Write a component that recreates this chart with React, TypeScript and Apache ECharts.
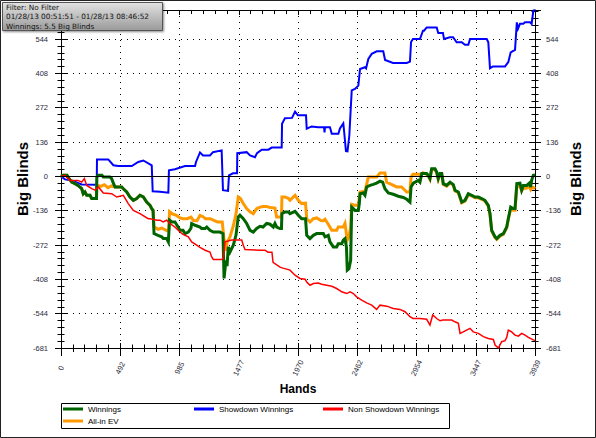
import React, { useEffect, useRef } from "react";
import * as echarts from "echarts";

// ---- Data (hands, big blinds) ----
const winnings: [number, number][] = [
  [0, 0], [17, 4], [50, 4], [66, -8], [89, -23], [116, -29], [141, -36], [172, -49], [185, -69], [199, -62],
  [214, -75], [241, -75], [255, -88], [295, -88], [298, -3], [307, 4], [341, 4], [352, -3], [407, -3], [421, -9],
  [435, -27], [449, -42], [504, -42], [518, -49], [546, -62], [573, -82], [601, -95], [629, -88], [656, -75], [684, -82],
  [712, -102], [740, -115], [754, -128], [765, -135], [773, -227], [806, -234], [837, -240], [850, -247], [878, -247], [892, -260],
  [902, -174], [922, -181], [947, -181], [964, -194], [989, -214], [1014, -214], [1030, -227], [1058, -221], [1080, -206], [1086, -187],
  [1114, -194], [1155, -201], [1169, -207], [1197, -207], [1211, -201], [1238, -214], [1266, -221], [1294, -221], [1321, -221], [1346, -227],
  [1355, -405], [1371, -333], [1380, -356], [1390, -280], [1404, -300], [1432, -273], [1454, -234], [1473, -161], [1487, -154], [1515, -168],
  [1543, -187], [1571, -214], [1598, -221], [1626, -207], [1654, -198], [1679, -201], [1709, -187], [1737, -190], [1764, -201], [1778, -187],
  [1792, -201], [1820, -207], [1832, -207], [1836, -148], [1861, -141], [1889, -141], [1903, -148], [1945, -139], [1972, -154], [2000, -168],
  [2032, -168], [2042, -234], [2069, -247], [2097, -234], [2125, -227], [2180, -227], [2194, -240], [2221, -234], [2235, -260], [2263, -280],
  [2291, -280], [2304, -267], [2333, -267], [2346, -253], [2360, -247], [2372, -280], [2379, -372], [2393, -366], [2407, -333], [2416, -122],
  [2429, -128], [2443, -135], [2471, -135], [2479, -108], [2485, -69], [2512, -66], [2526, -75], [2540, -42], [2568, -36], [2595, -32],
  [2623, -27], [2651, -19], [2673, -23], [2692, -49], [2720, -66], [2761, -71], [2803, -79], [2845, -84], [2873, -91], [2900, -102],
  [2909, -42], [2928, -27], [2969, -16], [2983, -23], [2998, 11], [3039, 11], [3052, 4], [3066, -9], [3080, 30], [3108, 30],
  [3122, 17], [3135, -9], [3149, 11], [3164, 11], [3177, -29], [3205, -36], [3233, -23], [3260, -33], [3274, -55], [3302, -62],
  [3316, -82], [3330, -102], [3357, -95], [3385, -69], [3413, -75], [3440, -82], [3468, -82], [3496, -88], [3523, -95], [3551, -115],
  [3565, -148], [3579, -214], [3607, -240], [3621, -247], [3648, -234], [3676, -227], [3704, -201], [3717, -168], [3737, -122], [3756, -128],
  [3773, -128], [3788, -29], [3814, -27], [3828, -55], [3842, -36], [3870, -36], [3892, -27], [3903, -42], [3911, -16], [3925, 4],
  [3939, 5.5],
];

const allInEv: [number, number][] = [
  [0, 0], [17, 4], [50, 4], [66, -8], [89, -23], [116, -29], [141, -36], [172, -49], [185, -69], [199, -62],
  [214, -75], [241, -75], [255, -88], [295, -88], [298, -35], [330, -40], [360, -33], [390, -45], [420, -38], [435, -40],
  [449, -42], [504, -42], [518, -49], [546, -62], [573, -82], [601, -95], [629, -88], [656, -75], [684, -82], [712, -102],
  [740, -115], [754, -128], [765, -135], [773, -200], [806, -210], [837, -205], [878, -215], [895, -212], [902, -140], [930, -150],
  [960, -155], [989, -165], [1014, -168], [1050, -168], [1080, -162], [1100, -175], [1130, -176], [1155, -155], [1180, -160], [1200, -168],
  [1240, -168], [1270, -175], [1300, -181], [1340, -181], [1355, -250], [1371, -295], [1380, -262], [1404, -240], [1430, -200], [1454, -150],
  [1473, -82], [1490, -87], [1515, -108], [1543, -128], [1571, -141], [1598, -148], [1626, -128], [1654, -122], [1680, -120], [1709, -120],
  [1740, -124], [1778, -126], [1792, -161], [1832, -161], [1836, -82], [1861, -82], [1889, -87], [1903, -95], [1945, -75], [1972, -95],
  [2000, -108], [2032, -106], [2042, -168], [2069, -181], [2097, -168], [2125, -165], [2160, -175], [2180, -176], [2194, -170], [2221, -190],
  [2250, -214], [2291, -214], [2304, -201], [2346, -201], [2360, -187], [2379, -253], [2393, -240], [2407, -200], [2416, -111], [2443, -115],
  [2471, -115], [2485, -62], [2526, -59], [2554, -3], [2623, -3], [2651, 13], [2692, 13], [2706, -23], [2745, -32], [2790, -42],
  [2830, -42], [2873, -62], [2900, -62], [2909, -3], [2925, 8], [2998, 8], [3008, 14], [3039, 8], [3052, 1], [3066, -12],
  [3080, 27], [3108, 27], [3122, 14], [3135, -12], [3149, 8], [3164, 8], [3177, -32], [3205, -39], [3233, -26], [3260, -36],
  [3274, -58], [3302, -65], [3316, -85], [3330, -105], [3357, -98], [3385, -72], [3413, -78], [3440, -85], [3468, -85], [3496, -91],
  [3523, -98], [3551, -118], [3565, -151], [3579, -217], [3607, -243], [3621, -250], [3648, -237], [3676, -230], [3704, -204], [3717, -171],
  [3737, -128], [3756, -134], [3773, -134], [3788, -40], [3814, -38], [3828, -58], [3842, -48], [3870, -46], [3892, -40], [3903, -52],
  [3911, -45], [3925, -44], [3939, -49],
];

const showdown: [number, number][] = [
  [0, 0], [33, -12], [89, -16], [172, -32], [297, -33], [299, 67], [393, 67], [435, 44], [476, 41], [588, 41],
  [642, 57], [684, 63], [754, 44], [762, -59], [823, -61], [892, -65], [897, 24], [947, 28], [1030, 41], [1114, 41],
  [1122, 57], [1155, 95], [1180, 83], [1238, 83], [1263, 96], [1335, 103], [1346, -55], [1388, -58], [1396, 4], [1429, 12],
  [1463, 12], [1465, 92], [1543, 96], [1571, 83], [1612, 76], [1629, 92], [1668, 106], [1723, 106], [1751, 114], [1834, 114],
  [1837, 209], [1861, 231], [1920, 232], [1945, 257], [1969, 242], [2036, 242], [2042, 189], [2083, 198], [2136, 195], [2186, 195],
  [2190, 174], [2194, 195], [2235, 195], [2250, 169], [2305, 169], [2318, 190], [2346, 210], [2352, 182], [2368, 100], [2381, 99],
  [2396, 162], [2407, 261], [2416, 341], [2443, 347], [2471, 360], [2485, 426], [2526, 433], [2535, 428], [2554, 466], [2582, 486],
  [2624, 496], [2678, 496], [2693, 462], [2759, 450], [2873, 450], [2900, 455], [2909, 533], [2925, 545], [2983, 545], [3008, 578],
  [3017, 578], [3039, 591], [3122, 591], [3135, 569], [3174, 569], [3183, 545], [3232, 552], [3258, 552], [3288, 532], [3330, 532],
  [3357, 522], [3385, 522], [3399, 545], [3538, 545], [3551, 532], [3565, 429], [3590, 436], [3690, 436], [3717, 453], [3737, 492],
  [3773, 502], [3788, 611], [3798, 586], [3814, 605], [3842, 605], [3856, 611], [3897, 611], [3911, 605], [3925, 657], [3939, 660],
];

const nonShowdown: [number, number][] = [
  [0, 0], [33, 4], [75, -16], [141, -16], [172, -23], [194, -9], [214, -36], [255, -49], [283, -55], [310, -42],
  [352, -66], [421, -69], [463, -82], [518, -75], [559, -108], [601, -135], [656, -148], [725, -168], [740, -168], [798, -174],
  [823, -174], [848, -181], [878, -174], [906, -187], [947, -201], [989, -221], [1014, -230], [1058, -240], [1086, -260], [1128, -273],
  [1155, -282], [1197, -293], [1238, -300], [1252, -320], [1266, -330], [1335, -330], [1349, -326], [1363, -260], [1419, -253], [1502, -253],
  [1515, -273], [1529, -290], [1654, -293], [1695, -293], [1720, -301], [1753, -301], [1762, -341], [1820, -360], [1845, -364], [1903, -372],
  [1945, -392], [1986, -405], [2028, -408], [2042, -419], [2069, -432], [2097, -425], [2138, -423], [2166, -428], [2208, -432], [2250, -436],
  [2291, -445], [2333, -458], [2374, -465], [2402, -458], [2429, -465], [2457, -478], [2499, -491], [2540, -502], [2582, -511], [2623, -528],
  [2651, -511], [2707, -515], [2761, -524], [2817, -528], [2859, -537], [2900, -557], [2925, -564], [2983, -564], [3039, -567], [3066, -590],
  [3089, -550], [3122, -564], [3150, -573], [3174, -570], [3247, -570], [3274, -577], [3302, -583], [3316, -623], [3343, -617], [3371, -610],
  [3399, -603], [3426, -617], [3468, -623], [3510, -636], [3551, -643], [3593, -647], [3607, -669], [3635, -681], [3662, -656], [3690, -652],
  [3704, -639], [3717, -610], [3745, -617], [3773, -630], [3801, -634], [3828, -623], [3856, -630], [3884, -639], [3925, -649], [3939, -652],
];

const xTickLabels = ["0", "492", "985", "1477", "1970", "2462", "2954", "3447", "3939"];
const yTickLabels = ["-681", "-544", "-408", "-272", "-136", "0", "136", "272", "408", "544"];
const infoLines = [
  "Filter: No Filter",
  "01/28/13 00:51:51 - 01/28/13 08:46:52",
  "Winnings: 5.5 Big Blinds",
];

const X_MIN = 0;
const X_MAX = 3939;
const X_INTERVAL = 492.375;
const Y_MIN = -681;
const Y_MAX = 660;
const Y_INTERVAL = 136.2;

const FONT = '"Liberation Sans", Arial, sans-serif';

export default function App() {
  const ref = useRef<HTMLDivElement>(null);

  useEffect(() => {
    if (!ref.current) return;
    const chart = echarts.init(ref.current, undefined, { renderer: "svg" });

    const gridBox = { left: 61, right: 61, top: 10, bottom: 90 };
    const black = { color: "#000", width: 1 };

    const xBase = (gridIndex: number) => ({
      type: "value" as const,
      gridIndex,
      min: X_MIN,
      max: X_MAX,
      interval: X_INTERVAL,
    });
    const yBase = (gridIndex: number) => ({
      type: "value" as const,
      gridIndex,
      min: Y_MIN,
      max: Y_MAX,
      interval: Y_INTERVAL,
    });

    const option: any = {
      animation: false,
      backgroundColor: "#fff",
      grid: [0, 1, 2, 3].map(() => ({ ...gridBox, containLabel: false })),
      xAxis: [
        {
          ...xBase(0),
          position: "bottom",
          axisLine: { show: true, onZero: false, lineStyle: black },
          axisTick: { show: true, inside: false, length: 8, lineStyle: black },
          minorTick: { show: true, splitNumber: 5, length: 4, lineStyle: black },
          splitLine: { show: true, lineStyle: { color: "#000", width: 1, type: [1, 5] } },
          axisLabel: {
            show: true,
            rotate: 65,
            align: "center",
            verticalAlign: "middle",
            margin: 20,
            fontSize: 7.5,
            fontFamily: FONT,
            color: "#2a2a3a",
            formatter: (_v: number, i: number) => xTickLabels[i] ?? "",
          },
          name: "Hands",
          nameLocation: "middle",
          nameGap: 35,
          nameMoveOverlap: false,
          nameTextStyle: { fontSize: 12, fontWeight: "bold", fontFamily: FONT, color: "#000" },
        },
        {
          ...xBase(1),
          position: "bottom",
          axisLine: { show: false, onZero: false },
          axisTick: { show: true, inside: true, length: 5, lineStyle: black },
          minorTick: { show: true, splitNumber: 5, length: 3.5, lineStyle: black },
          splitLine: { show: false },
          axisLabel: { show: false },
        },
        {
          ...xBase(2),
          position: "top",
          axisLine: { show: true, onZero: false, lineStyle: black },
          axisTick: { show: true, inside: true, length: 5, lineStyle: black },
          minorTick: { show: true, splitNumber: 5, length: 4, lineStyle: black },
          splitLine: { show: false },
          axisLabel: { show: false },
        },
        { ...xBase(3), show: false },
      ],
      yAxis: [
        {
          ...yBase(0),
          position: "left",
          axisLine: { show: true, onZero: false, lineStyle: black },
          axisTick: { show: true, inside: false, length: 6, lineStyle: black },
          minorTick: { show: true, splitNumber: 5, length: 3.5, lineStyle: black },
          splitLine: { show: true, lineStyle: { color: "#000", width: 1, type: [1, 5] } },
          axisLabel: {
            show: true,
            margin: 13,
            fontSize: 7.5,
            fontFamily: FONT,
            color: "#2a2a3a",
            formatter: (_v: number, i: number) => yTickLabels[i] ?? "",
          },
          name: "Big Blinds",
          nameLocation: "middle",
          nameRotate: 90,
          nameGap: 31,
          nameMoveOverlap: false,
          nameTextStyle: { fontSize: 15, fontWeight: "bold", fontFamily: FONT, color: "#000" },
        },
        {
          ...yBase(1),
          position: "left",
          axisLine: { show: false, onZero: false },
          axisTick: { show: true, inside: true, length: 6, lineStyle: black },
          minorTick: { show: true, splitNumber: 5, length: 3.5, lineStyle: black },
          splitLine: { show: false },
          axisLabel: { show: false },
        },
        {
          ...yBase(2),
          position: "right",
          axisLine: { show: true, onZero: false, lineStyle: black },
          axisTick: { show: true, inside: false, length: 6, lineStyle: black },
          minorTick: { show: true, splitNumber: 5, length: 3.5, lineStyle: black },
          splitLine: { show: false },
          axisLabel: {
            show: true,
            margin: 11,
            fontSize: 7.5,
            fontFamily: FONT,
            color: "#2a2a3a",
            formatter: (_v: number, i: number) => yTickLabels[i] ?? "",
          },
          name: "Big Blinds",
          nameLocation: "middle",
          nameRotate: 90,
          nameGap: 33,
          nameMoveOverlap: false,
          nameTextStyle: { fontSize: 15, fontWeight: "bold", fontFamily: FONT, color: "#000" },
        },
        {
          ...yBase(3),
          position: "right",
          axisLine: { show: false, onZero: false },
          axisTick: { show: true, inside: true, length: 6, lineStyle: black },
          minorTick: { show: true, splitNumber: 5, length: 3.5, lineStyle: black },
          splitLine: { show: false },
          axisLabel: { show: false },
        },
      ],
      legend: [
        {
          data: ["Winnings", "All-in EV"],
          orient: "vertical",
          left: 63,
          top: 404,
          itemWidth: 20,
          itemHeight: 3,
          itemGap: 2,
          icon: "rect",
          selectedMode: false,
          padding: 0,
          textStyle: { fontSize: 8, fontFamily: FONT, color: "#000", lineHeight: 10 },
        },
        {
          data: ["Showdown Winnings"],
          left: 194,
          top: 404,
          itemWidth: 20,
          itemHeight: 3,
          icon: "rect",
          selectedMode: false,
          padding: 0,
          textStyle: { fontSize: 8, fontFamily: FONT, color: "#000", lineHeight: 10 },
        },
        {
          data: ["Non Showdown Winnings"],
          left: 323,
          top: 404,
          itemWidth: 20,
          itemHeight: 3,
          icon: "rect",
          selectedMode: false,
          padding: 0,
          textStyle: { fontSize: 8, fontFamily: FONT, color: "#000", lineHeight: 10 },
        },
      ],
      series: [
        {
          name: "Showdown Winnings",
          type: "line",
          data: showdown,
          color: "#0000ff",
          showSymbol: false,
          symbol: "none",
          lineStyle: { color: "#0000ff", width: 2, join: "miter" },
          markLine: {
            silent: true,
            symbol: "none",
            label: { show: false },
            lineStyle: { color: "#000", width: 1, type: "solid" },
            data: [{ yAxis: 0 }],
          },
        },
        {
          name: "All-in EV",
          type: "line",
          data: allInEv,
          color: "#ff9900",
          showSymbol: false,
          symbol: "none",
          lineStyle: { color: "#ff9900", width: 3, join: "miter" },
        },
        {
          name: "Winnings",
          type: "line",
          data: winnings,
          color: "#006400",
          showSymbol: false,
          symbol: "none",
          lineStyle: { color: "#006400", width: 3, join: "miter" },
        },
        {
          name: "Non Showdown Winnings",
          type: "line",
          data: nonShowdown,
          color: "#ff0000",
          showSymbol: false,
          symbol: "none",
          lineStyle: { color: "#ff0000", width: 1.5, join: "miter" },
        },
      ],
      graphic: [
        {
          type: "rect",
          z: 100,
          silent: true,
          shape: { x: 61.5, y: 403.5, width: 388, height: 25 },
          style: { fill: "none", stroke: "#000", lineWidth: 1 },
        },
        {
          type: "rect",
          z: 100,
          silent: true,
          shape: { x: 0.5, y: 0.5, width: 595, height: 437 },
          style: { fill: "none", stroke: "#222", lineWidth: 1 },
        },
        {
          type: "rect",
          z: 120,
          silent: true,
          shape: { x: 2.5, y: 2.5, width: 160, height: 28 },
          style: {
            fill: new echarts.graphic.LinearGradient(0, 0, 0, 1, [
              { offset: 0, color: "#e2e2e2" },
              { offset: 1, color: "#9a9a9a" },
            ]),
            stroke: "#555",
            lineWidth: 1,
            shadowBlur: 2,
            shadowOffsetX: 1,
            shadowOffsetY: 1,
            shadowColor: "rgba(0,0,0,0.45)",
          },
        },
        ...infoLines.map((t, i) => ({
          type: "text",
          z: 121,
          silent: true,
          x: 6,
          y: 7.5 + i * 9.4,
          style: {
            text: t,
            fill: "#111",
            font: '7.3px "DejaVu Sans", sans-serif',
            verticalAlign: "middle",
            align: "left",
          },
        })),
      ],
    };

    chart.setOption(option);
    return () => chart.dispose();
  }, []);

  return (
    <div
      ref={ref}
      style={{ position: "absolute", left: 0, top: 0, width: 596, height: 438, background: "#fff" }}
    />
  );
}
